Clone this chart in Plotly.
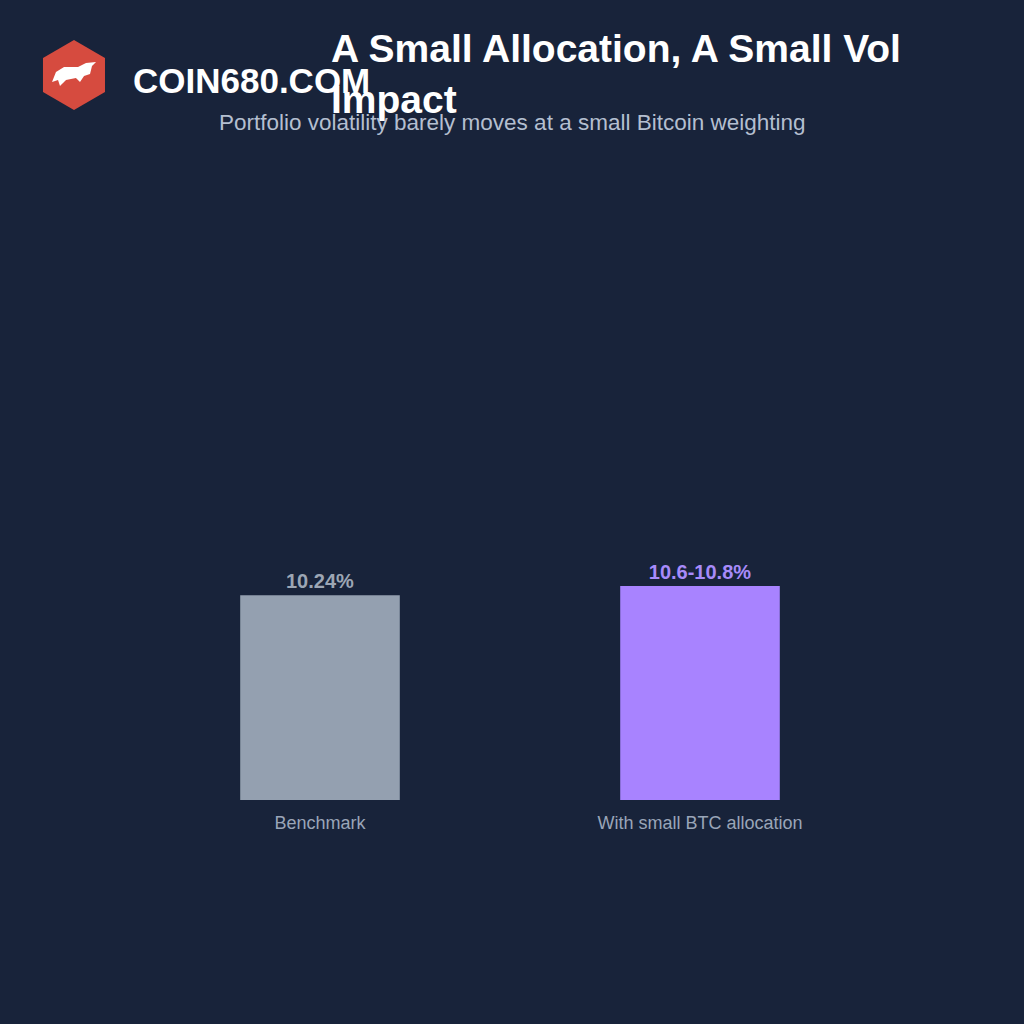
import plotly.graph_objects as go

categories = ["Benchmark", "With small BTC allocation"]
values = [10.24, 10.7]
labels = ["10.24%", "10.6-10.8%"]
bar_colors = ["#94a0b0", "#a883ff"]
text_colors = ["#9ca6b4", "#a78bfa"]

L, T, W, H = 130, 160, 760, 640
def px(x): return (x - L) / W
def py(y): return (T + H - y) / H

fig = go.Figure(go.Bar(
    x=categories, y=values, text=labels, textposition="outside",
    marker=dict(color=bar_colors, line=dict(width=0)),
    textfont=dict(family="Liberation Sans, Arial", size=20, color=text_colors, weight="bold"),
    cliponaxis=False, hoverinfo="skip"))

fig.update_layout(
    width=1024, height=1024,
    paper_bgcolor="#18233a", plot_bgcolor="rgba(0,0,0,0)",
    margin=dict(l=L, r=1024 - L - W, t=T, b=1024 - T - H),
    bargap=0.58, showlegend=False,
    font=dict(family="Liberation Sans, Arial"),
    xaxis=dict(showgrid=False, showline=False, zeroline=False, ticks="",
               ticklabelstandoff=10, tickfont=dict(size=18, color="#9aa5b8")),
    yaxis=dict(range=[0, 32], visible=False),
)
fig.add_annotation(text="<b>A Small Allocation, A Small Vol<br>Impact</b>", xref="paper", yref="paper",
                   x=px(329), y=py(74), xanchor="left", yanchor="middle", align="left",
                   showarrow=False, font=dict(size=39, color="#ffffff"))
fig.add_annotation(text="Portfolio volatility barely moves at a small Bitcoin weighting",
                   xref="paper", yref="paper", x=px(512), y=py(122), yanchor="middle", showarrow=False,
                   font=dict(size=22.5, color="#b4bfd0"))
hexpts = [(74, 40), (105, 58), (105, 92), (74, 110), (43, 92), (43, 58)]
path = "M " + " L ".join(f"{px(a):.4f} {py(b):.4f}" for a, b in hexpts) + " Z"
fig.add_shape(type="path", xref="paper", yref="paper", layer="above",
              path=path, fillcolor="#d64b3f", line=dict(width=0))
bull = [(52, 82), (56, 72), (64, 67), (78, 67), (86, 63), (96, 62), (92, 66), (90, 74),
        (84, 76), (80, 82), (76, 78), (66, 80), (60, 86), (58, 80)]
bpath = "M " + " L ".join(f"{px(a):.4f} {py(b):.4f}" for a, b in bull) + " Z"
fig.add_shape(type="path", xref="paper", yref="paper", layer="above",
              path=bpath, fillcolor="#ffffff", line=dict(width=0))
fig.add_annotation(text="<b>COIN680.COM</b>", xref="paper", yref="paper", x=px(131), y=py(80),
                   xanchor="left", yanchor="middle", showarrow=False,
                   font=dict(size=35, color="#ffffff"))
fig.write_html("out.html", config={"displayModeBar": False},
               post_script="document.body.style.margin='0';")
